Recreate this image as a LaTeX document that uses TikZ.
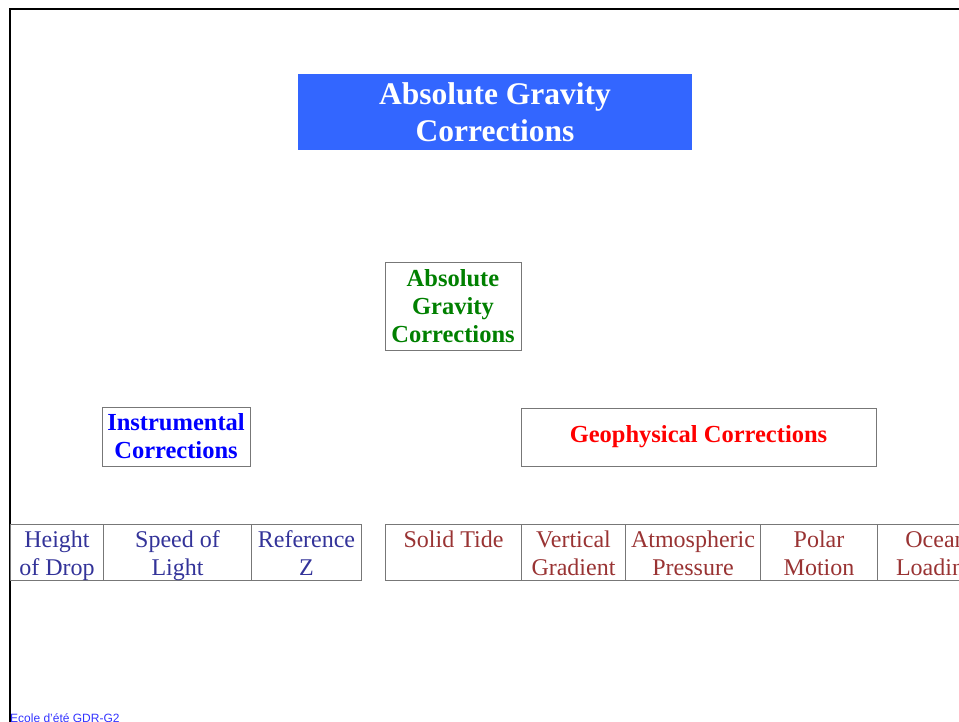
\documentclass[tikz,border=0pt]{standalone}
\usepackage{fontspec}
\setmainfont{Liberation Serif}
\setsansfont{Liberation Sans}
\usepackage{xcolor}
\usepackage{tikz}
\usetikzlibrary{positioning}

\definecolor{azultitulo}{HTML}{3366FF}
\definecolor{verde}{HTML}{008000}
\definecolor{azul}{HTML}{0000FF}
\definecolor{vermelho}{HTML}{FF0000}
\definecolor{azulescuro}{HTML}{333399}
\definecolor{vinho}{HTML}{993333}
\definecolor{borda}{HTML}{777777}

\newcommand{\linha}[1]{\raisebox{-3pt}[19.6pt][8.4pt]{#1}}
\newcommand{\linhas}[2]{\linha{#1}\\\linha{#2}}

\begin{document}
\begin{tikzpicture}[x=1pt, y=-1pt,
		    every node/.style={inner sep=0pt, align=center},
		    caixa/.style={draw=borda, line width=1pt},
		    negrito/.style={caixa, font=\bfseries\fontsize{24.5}{28}\selectfont},
		    folha/.style={caixa, anchor=north west, minimum height=56pt,
		        font=\fontsize{24}{28}\selectfont}
		]
		\tikzset{
		    instr/.style={folha, text=azulescuro},
		    geof/.style={folha, text=vinho}
		}
		\useasboundingbox (0,0) rectangle (959,722);
		\clip (0,0) rectangle (959,722);
		% moldura
		\draw[line width=2pt] (10,740) -- (10,9) -- (980,9);
		% titulo
		\node[fill=azultitulo, text=white, minimum width=394pt, minimum height=76pt,
		      font=\bfseries\fontsize{31.5}{37}\selectfont] (titulo) at (495,112)
		      {Absolute Gravity\\Corrections};
		% niveis
		\node[negrito, text=verde, minimum width=136pt, minimum height=87pt] (raiz)
		      at (453,306.5) {Absolute\\Gravity\\Corrections};
		\node[negrito, text=azul, minimum width=148pt, minimum height=59pt] (instrumental)
		      at (176,436.5) {Instrumental\\Corrections};
		\node[negrito, text=vermelho, minimum width=355pt, minimum height=58pt] (geofisica)
		      at (698.5,437) {Geophysical Corrections};
		% folhas
		\node[instr, minimum width=93pt] (altura) at (10,524) {\linhas{Height}{of Drop}};
		\node[instr, minimum width=148pt] (luz) at (103,524) {\linhas{Speed of}{Light}};
		\node[instr, minimum width=110pt] (refz) at (251,524) {\linhas{Reference}{Z}};
		\node[geof, minimum width=136pt] (mare) at (385,524) {\linhas{Solid Tide}{}};
		\node[geof, minimum width=104pt] (gradiente) at (521,524) {\linhas{Vertical}{Gradient}};
		\node[geof, minimum width=135pt] (pressao) at (625,524) {\linhas{Atmospheric}{Pressure}};
		\node[geof, minimum width=117pt] (polar) at (760,524) {\linhas{Polar}{Motion}};
		\node[geof, minimum width=117pt] (oceano) at (877,524) {\linhas{Ocean}{Loading}};
		% rodape
		\node[anchor=north west, text=azul!80, font=\sffamily\fontsize{12}{14}\selectfont]
		      (rodape) at (10,713) {Ecole d'été GDR-G2};
\end{tikzpicture}
\end{document}
